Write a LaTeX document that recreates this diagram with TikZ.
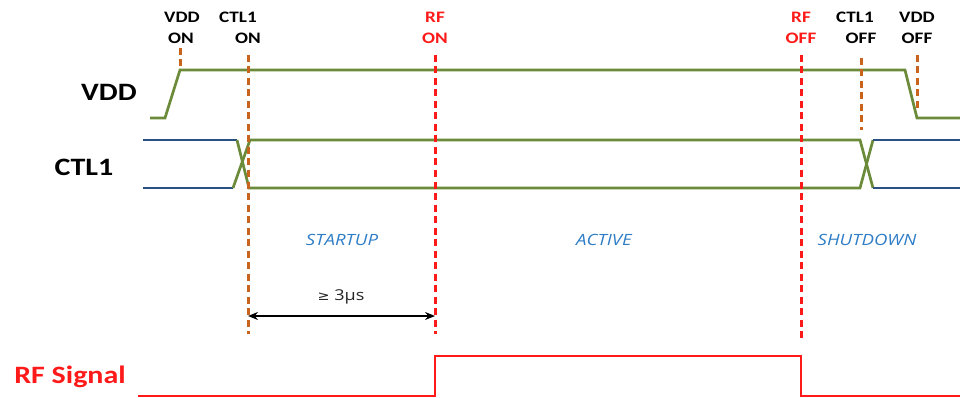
\documentclass[tikz,border=0pt]{standalone}
\usepackage{fontspec}
\setmainfont{Carlito}
\newfontfamily\lblfont[FakeStretch=1.2]{Carlito}
\newfontfamily\osfont[FakeStretch=1.2]{Open Sans}
\newfontfamily\djfont[FakeStretch=1.1]{DejaVu Sans}
\usetikzlibrary{arrows.meta}
\definecolor{sgreen}{HTML}{6B8A3A}
\definecolor{sblue}{HTML}{2A4F82}
\definecolor{sorange}{HTML}{C8641E}
\definecolor{sred}{HTML}{FF1A1A}
\definecolor{slabel}{HTML}{2E7DC6}
\tikzset{
  sig/.style={line width=2.7pt, line join=miter},
  gsig/.style={sig, draw=sgreen},
  bsig/.style={sig, draw=sblue},
  rsig/.style={line width=2.7pt, draw=sred},
  odash/.style={line width=3pt, draw=sorange, dash pattern=on 7pt off 4.5pt},
  rdash/.style={line width=3pt, draw=sred, dash pattern=on 7pt off 4.5pt},
  toplbl/.style={font=\lblfont\bfseries\fontsize{16}{16}\selectfont, inner sep=0pt, anchor=center},
  sidelbl/.style={font=\lblfont\bfseries\fontsize{25}{25}\selectfont, inner sep=0pt, anchor=center},
  phase/.style={font=\osfont\itshape\fontsize{15.5}{15.5}\selectfont, text=slabel, inner sep=0pt, anchor=center},
}
\begin{document}
\begin{tikzpicture}[x=1pt,y=-1pt]
\useasboundingbox (0,0) rectangle (960,398);
% VDD signal
\draw[gsig] (150,118) -- (165,118) -- (180,70) -- (905,70) -- (917,118) -- (960,118);
% CTL1 signal
\draw[bsig] (143,140) -- (237,140);
\draw[bsig] (143,188) -- (233,188);
\draw[gsig] (237,140) -- (249,188) -- (860,188) -- (873,140);
\draw[gsig] (233,188) -- (250,140) -- (860,140) -- (873,188);
\draw[bsig] (873,140) -- (960,140);
\draw[bsig] (873,188) -- (960,188);
% RF signal
\draw[rsig] (138,396) -- (435,396) -- (435,356) -- (801,356) -- (801,396) -- (960,396);
% dashed markers
\coordinate (vonT) at (180,48);  \coordinate (vonB) at (180,70);
\coordinate (conT) at (248,55);  \coordinate (conB) at (248,334);
\coordinate (ronT) at (435,55);  \coordinate (ronB) at (435,334);
\coordinate (roffT) at (801,55); \coordinate (roffB) at (801,338);
\coordinate (coffT) at (861,58); \coordinate (coffB) at (861,130);
\coordinate (voffT) at (917,55); \coordinate (voffB) at (917,112);
\draw[odash] (vonT) -- (vonB);
\draw[odash] (conT) -- (conB);
\draw[rdash] (ronT) -- (ronB);
\draw[rdash] (roffT) -- (roffB);
\draw[odash] (coffT) -- (coffB);
\draw[odash] (voffT) -- (voffB);
% top labels
\node[toplbl] (l1a) at (182,17) {VDD};
\node[toplbl] (l1b) at (181,38) {ON};
\node[toplbl] (l2a) at (238,17) {CTL1};
\node[toplbl] (l2b) at (248,38) {ON};
\node[toplbl, text=sred] (l3a) at (435,17) {RF};
\node[toplbl, text=sred] (l3b) at (435,38) {ON};
\node[toplbl, text=sred] (l4a) at (801,17) {RF};
\node[toplbl, text=sred] (l4b) at (801,38) {OFF};
\node[toplbl] (l5a) at (855,17) {CTL1};
\node[toplbl] (l5b) at (861,38) {OFF};
\node[toplbl] (l6a) at (917,17) {VDD};
\node[toplbl] (l6b) at (917,38) {OFF};
% side labels
\node[sidelbl] (svdd) at (109,92) {VDD};
\node[sidelbl] (sctl) at (84,167) {CTL1};
\node[sidelbl, text=sred] (srf) at (70,377) {RF Signal};
% phases
\node[phase] (pst) at (342,240) {STARTUP};
\node[phase] (pac) at (604,240) {ACTIVE};
\node[phase] (psh) at (867,240) {SHUTDOWN};
% timing arrow
\coordinate (aL) at (248,316);
\coordinate (aR) at (435,316);
\draw[line width=1.4pt, {Stealth[length=10pt,width=8pt]}-{Stealth[length=10pt,width=8pt]}] (aL) -- (aR);
\node[font=\osfont\fontsize{15}{15}\selectfont, inner sep=0pt, text=black!85] (tmin) at (341,297) {{\djfont\fontsize{13}{13}\selectfont ≥} 3μs};
\end{tikzpicture}
\end{document}
